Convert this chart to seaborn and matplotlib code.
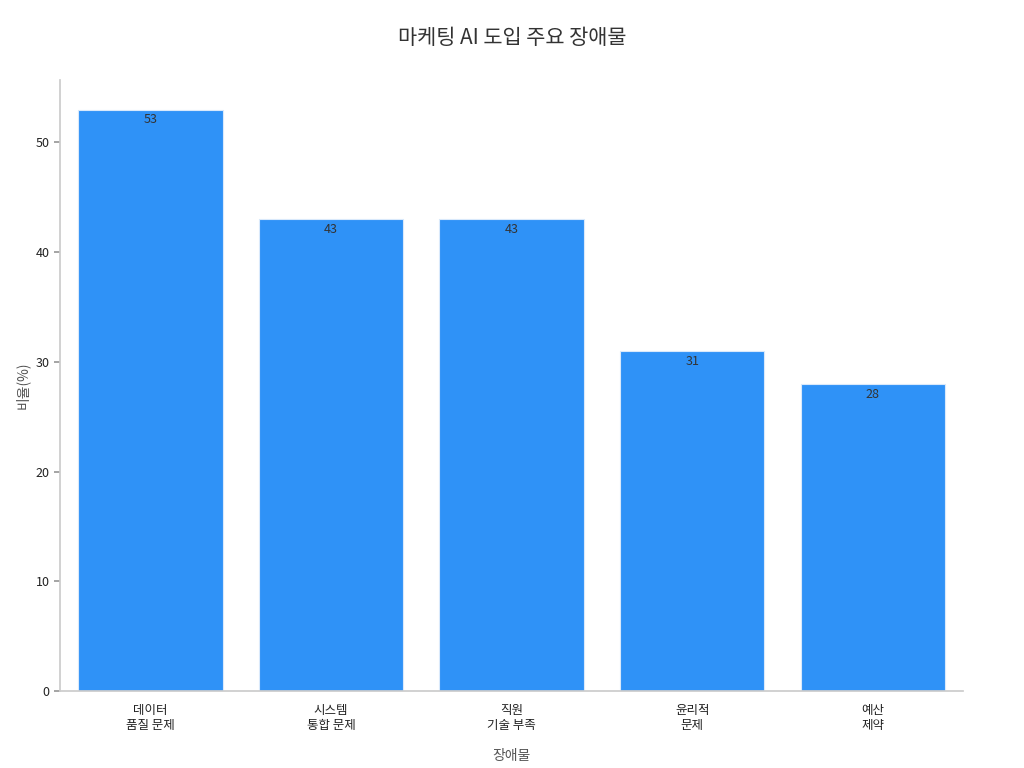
import matplotlib.pyplot as plt
import seaborn as sns
import pandas as pd

categories = ["데이터\n품질 문제", "시스템\n통합 문제", "직원\n기술 부족", "윤리적\n문제", "예산\n제약"]
values = [53, 43, 43, 31, 28]

sns.set_theme(style="white")
plt.rcParams['font.family'] = ['Noto Sans CJK KR', 'DejaVu Sans']

df = pd.DataFrame({"장애물": categories, "비율": values})

fig = plt.figure(figsize=(10.24, 7.68), dpi=100)
ax = fig.add_axes([0.0586, 0.100, 0.882, 0.796])
sns.barplot(data=df, x="장애물", y="비율", color="#2f92f7", saturation=1, width=0.8,
            edgecolor="#d9e9fb", linewidth=0.8, ax=ax)

for i, v in enumerate(values):
    ax.text(i, v - 0.35, str(v), ha="center", va="top", fontsize=9, color="#333333")

ax.set_xlim(-0.5, 4.5)
ax.set_ylim(0, 55.7)
ax.set_yticks([0, 10, 20, 30, 40, 50])
ax.set_xlabel("장애물", fontsize=10, color="#555555", labelpad=12)
ax.set_ylabel("비율(%)", fontsize=10, color="#555555")
ax.tick_params(axis="both", labelsize=9, colors="#222222")
ax.tick_params(axis="y", left=True, length=4, color="#999999")
sns.despine(ax=ax)
for s in ["left", "bottom"]:
    ax.spines[s].set_color("#cccccc")
fig.suptitle("마케팅 AI 도입 주요 장애물", fontsize=15, color="#333333", y=0.965)

fig.savefig("out.png", dpi=100)
